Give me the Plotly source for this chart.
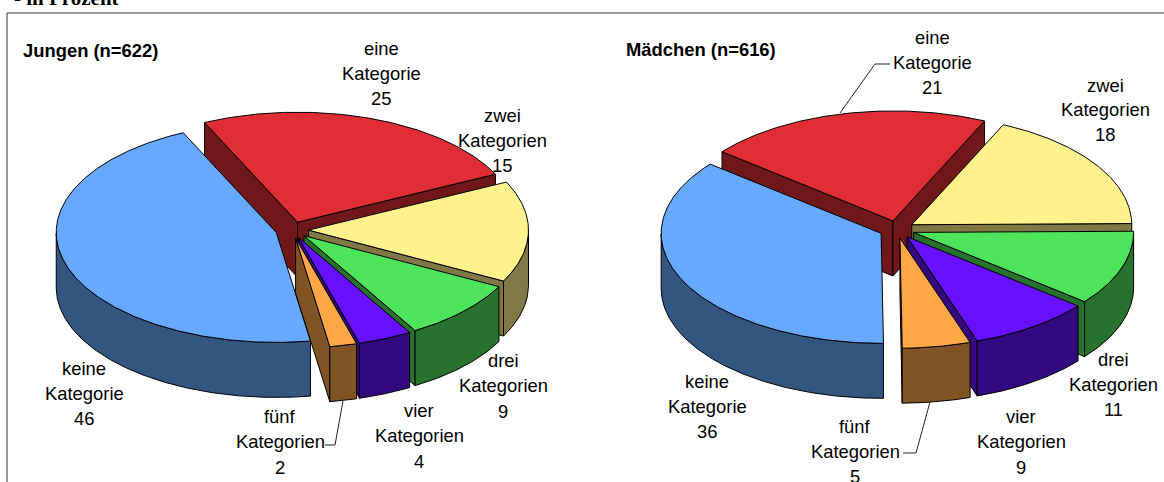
import numpy as np
import plotly.graph_objects as go

# ---- data -------------------------------------------------------------
categories = ["eine Kategorie", "zwei Kategorien", "drei Kategorien",
              "vier Kategorien", "fünf Kategorien", "keine Kategorie"]
jungen_values = [25, 15, 9, 4, 2, 46]
maedchen_values = [21, 18, 11, 9, 5, 36]
jungen_title = "Jungen (n=622)"
maedchen_title = "Mädchen (n=616)"
heading = "- in Prozent"

# ---- styles / geometry -------------------------------------------------
TOP = ["#E02E35", "#FFF28C", "#4DE35A", "#6611FF", "#FFA845", "#66A9FF"]
SIDE = ["#70171A", "#807946", "#27722D", "#33097F", "#805423", "#335680"]
RX, RY, DEPTH = 220, 110, 55
FONT = "Liberation Sans, Arial, sans-serif"
FS = 18.4

fig = go.Figure()


def poly(xs, ys, color):
    fig.add_trace(go.Scatter(x=xs, y=ys, mode="lines", fill="toself", fillcolor=color,
                             line=dict(color="#000000", width=1), hoverinfo="skip",
                             showlegend=False))


def pie3d(values, cx, cy, start_deg, explode):
    vals = np.array(values, float)
    spans = vals / vals.sum() * 360
    starts = start_deg + np.concatenate([[0], np.cumsum(spans)[:-1]])
    mids = np.radians(starts + spans / 2)
    for i in np.argsort(-np.cos(mids)):
        a0, a1 = starts[i], starts[i] + spans[i]
        tx = cx + explode * RX * np.sin(mids[i])
        ty = cy - explode * RY * np.cos(mids[i])
        th = np.radians(np.linspace(a0, a1, max(int(spans[i] * 2), 3)))
        ax = tx + RX * np.sin(th)
        ay = ty - RY * np.cos(th)
        # radial wall at the start edge
        if ax[0] < tx:
            poly([tx, ax[0], ax[0], tx, tx], [ty, ay[0], ay[0] + DEPTH, ty + DEPTH, ty], SIDE[i])
        # radial wall at the end edge
        if ax[-1] > tx:
            poly([tx, ax[-1], ax[-1], tx, tx], [ty, ay[-1], ay[-1] + DEPTH, ty + DEPTH, ty], SIDE[i])
        # outer wall: only the part of the rim that faces the viewer
        vis = np.where(np.cos(th) <= 0)[0]
        if len(vis) > 1:
            wx = ax[vis]
            wy = ay[vis]
            poly(list(wx) + list(wx[::-1]) + [wx[0]],
                 list(wy) + list((wy + DEPTH)[::-1]) + [wy[0]], SIDE[i])
        # top face
        poly([tx] + list(ax) + [tx], [ty] + list(ay) + [ty], TOP[i])


pie3d(jungen_values, 292, 230, -25, 0.075)
pie3d(maedchen_values, 897, 229.5, -51, 0.08)

# leader lines
for xs, ys in [([343, 335, 325], [401, 445, 445]),
               ([930, 916, 903], [402, 453, 453]),
               ([840, 875, 890], [113, 64, 64])]:
    fig.add_trace(go.Scatter(x=xs, y=ys, mode="lines", line=dict(color="#222222", width=1),
                             hoverinfo="skip", showlegend=False))


def label(x, y, text, size=FS, bold=False, anchor="center", yanchor="middle", family=FONT):
    fig.add_annotation(x=x, y=y, xref="x", yref="y", text=f"<b>{text}</b>" if bold else text,
                       showarrow=False, xanchor=anchor, yanchor=yanchor,
                       font=dict(family=family, size=size, color="#000000"),
                       borderpad=0, borderwidth=0)


label_pos = [
    (381, [48, 73, 98]), (502, [115, 140, 165]), (503, [360, 385, 411]),
    (419, [410, 435, 461]), (280, [416, 441, 467]), (84, [368, 393, 418]),
]
label_pos_m = [
    (932, [37, 62, 87]), (1105, [85, 109, 134]), (1113, [359, 384, 409]),
    (1021, [416, 441, 467]), (855, [426, 451, 476]), (707, [381, 406, 431]),
]
for vals, poss in [(jungen_values, label_pos), (maedchen_values, label_pos_m)]:
    for cat, v, (x, ys) in zip(categories, vals, poss):
        w1, w2 = cat.split(" ")
        label(x, ys[0], w1)
        label(x, ys[1], w2)
        label(x, ys[2], str(v))

label(23, 50, jungen_title, bold=True, anchor="left")
label(626, 49, maedchen_title, bold=True, anchor="left")
label(14, 10, heading, size=21, bold=True, anchor="left", yanchor="bottom",
      family="Liberation Serif, Times New Roman, serif")

fig.add_shape(type="rect", xref="x", yref="y", x0=7, y0=13, x1=1200, y1=520,
              line=dict(color="#333333", width=1), fillcolor="rgba(0,0,0,0)", layer="below")

fig.update_layout(width=1164, height=482, margin=dict(l=0, r=0, t=0, b=0),
                  paper_bgcolor="white", plot_bgcolor="white", showlegend=False,
                  xaxis=dict(range=[0, 1164], visible=False, fixedrange=True),
                  yaxis=dict(range=[482, 0], visible=False, fixedrange=True))
fig.write_html("out.html", config={"displayModeBar": False},
               post_script="document.body.style.margin='0';document.body.style.overflow='hidden';")
